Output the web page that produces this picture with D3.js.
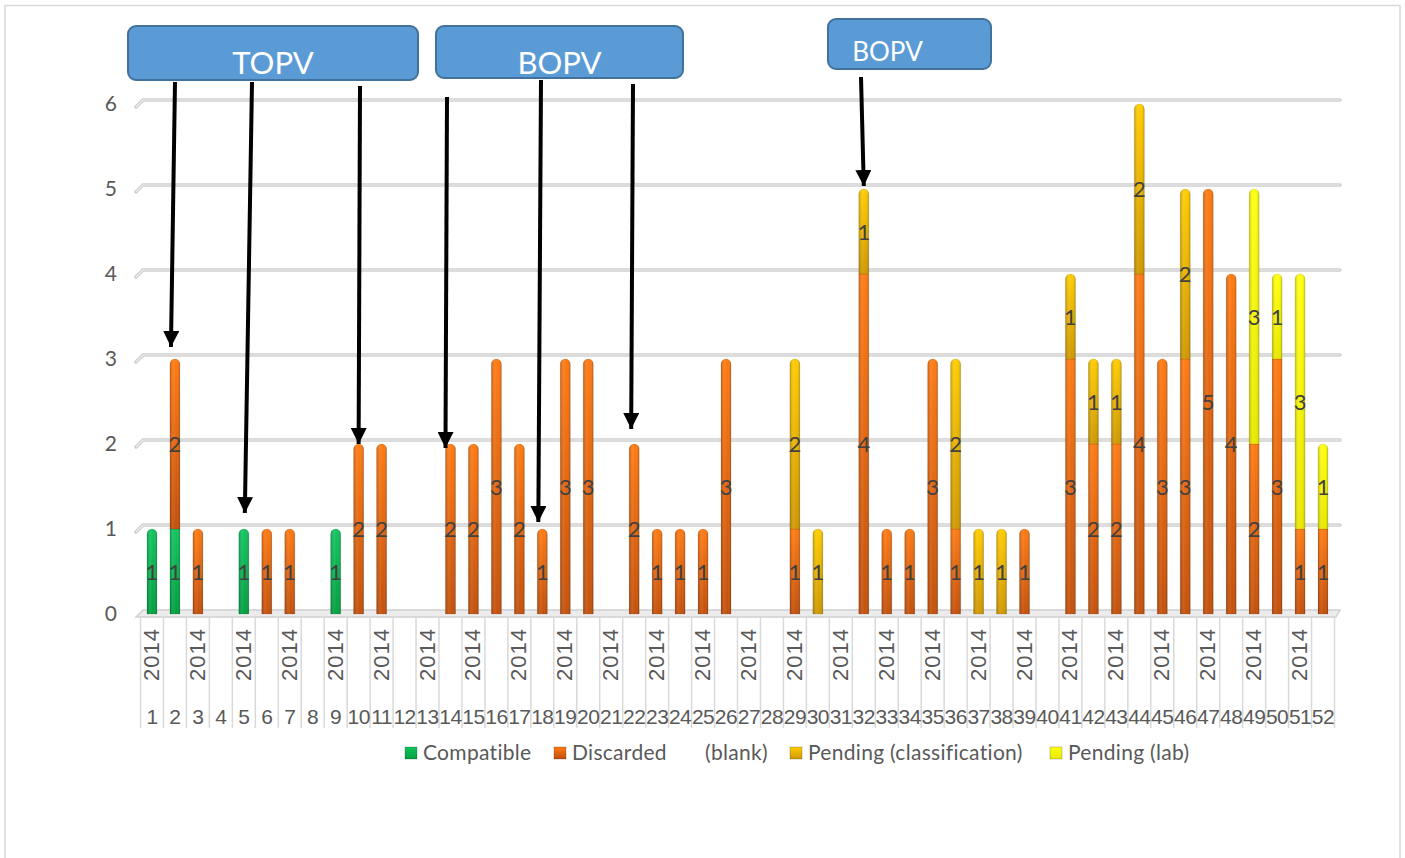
<!DOCTYPE html>
<html>
<head>
<meta charset="utf-8">
<script src="https://cdn.jsdelivr.net/npm/d3@7"></script>
<style>
  body { margin: 0; background: #fff; }
  svg { display: block; }
</style>
</head>
<body>
<div id="chart"></div>
<script>
// weeks 1..52 of 2014
const weeks = d3.range(1, 53);
const yearLabel = "2014";

// cases per week, one array per classification
const compatible = [1,1,0,0,1,0,0,0,1,0, 0,0,0,0,0,0,0,0,0,0, 0,0,0,0,0,0,0,0,0,0, 0,0,0,0,0,0,0,0,0,0, 0,0,0,0,0,0,0,0,0,0, 0,0];
const discarded  = [0,2,1,0,0,1,1,0,0,2, 2,0,0,2,2,3,2,1,3,3, 0,2,1,1,1,3,0,0,1,0, 0,4,1,1,3,1,0,0,1,0, 3,2,2,4,3,3,5,4,2,3, 1,1];
const blank      = new Array(52).fill(0);
const pendClass  = [0,0,0,0,0,0,0,0,0,0, 0,0,0,0,0,0,0,0,0,0, 0,0,0,0,0,0,0,0,2,1, 0,1,0,0,0,2,1,1,0,0, 1,1,1,2,0,2,0,0,0,0, 0,0];
const pendLab    = [0,0,0,0,0,0,0,0,0,0, 0,0,0,0,0,0,0,0,0,0, 0,0,0,0,0,0,0,0,0,0, 0,0,0,0,0,0,0,0,0,0, 0,0,0,0,0,0,0,0,3,1, 3,1];

const seriesNames = ["Compatible", "Discarded", "(blank)", "Pending (classification)", "Pending (lab)"];
const yTicks = [0, 1, 2, 3, 4, 5, 6];

// callout boxes and the arrows pointing at bars
const callouts = [
  {text: "TOPV", x: 128, y: 26, w: 290, h: 54, size: 31, ty: 74, dx: 0},
  {text: "BOPV", x: 436, y: 26, w: 247, h: 52, size: 31, ty: 74, dx: 0},
  {text: "BOPV", x: 828, y: 19, w: 163, h: 50, size: 26, ty: 61, dx: -22}
];
const arrows = [
  {week: 2,  value: 3, sx: 175, sy: 82, dx: -4, gap: 12},
  {week: 5,  value: 1, sx: 252, sy: 82, dx: 1,  gap: 16},
  {week: 10, value: 2, sx: 360, sy: 86, dx: 0,  gap: 0},
  {week: 14, value: 2, sx: 447, sy: 97, dx: -5, gap: -4},
  {week: 18, value: 1, sx: 541, sy: 80, dx: -4, gap: 7},
  {week: 22, value: 2, sx: 633, sy: 84, dx: -3, gap: 15},
  {week: 32, value: 5, sx: 861, sy: 77, dx: 0,  gap: 3}
];

const W = 1405, H = 858;
const svg = d3.select("#chart").append("svg")
  .attr("width", W)
  .attr("height", H)
  .style("font-family", "'Liberation Sans', Arial, sans-serif");

// chart frame
svg.append("path")
  .attr("d", `M5,${H + 2} V5.5 H1400 V${H + 2}`)
  .attr("fill", "none")
  .attr("stroke", "#d9d9d9")
  .attr("stroke-width", 1.5);

const x = d3.scaleBand()
  .domain(weeks)
  .range([140.5, 1334.5]);

const y = d3.scaleLinear()
  .domain([0, 6])
  .range([614, 104]);

const colors = {
  "Compatible": ["#10c45e", "#00a040"],
  "Discarded": ["#ff7a12", "#c4500a"],
  "(blank)": ["#ffffff", "#ffffff"],
  "Pending (classification)": ["#ffcc00", "#cf9800"],
  "Pending (lab)": ["#ffff10", "#e8e800"]
};

const defs = svg.append("defs");
seriesNames.forEach((name, i) => {
  const g = defs.append("linearGradient")
    .attr("id", "grad" + i)
    .attr("x1", 0).attr("y1", 0).attr("x2", 0).attr("y2", 1);
  g.append("stop").attr("offset", "0%").attr("stop-color", colors[name][0]);
  g.append("stop").attr("offset", "100%").attr("stop-color", colors[name][1]);
});
const cyl = defs.append("linearGradient")
  .attr("id", "cyl")
  .attr("x1", 0).attr("y1", 0).attr("x2", 1).attr("y2", 0);
cyl.append("stop").attr("offset", "0%").attr("stop-color", "#000").attr("stop-opacity", 0.22);
cyl.append("stop").attr("offset", "35%").attr("stop-color", "#fff").attr("stop-opacity", 0.08);
cyl.append("stop").attr("offset", "65%").attr("stop-color", "#fff").attr("stop-opacity", 0.0);
cyl.append("stop").attr("offset", "100%").attr("stop-color", "#000").attr("stop-opacity", 0.22);

defs.append("marker")
  .attr("id", "head")
  .attr("markerUnits", "userSpaceOnUse")
  .attr("viewBox", "0 0 16 16")
  .attr("refX", 16).attr("refY", 8)
  .attr("markerWidth", 16).attr("markerHeight", 16)
  .attr("orient", "auto")
  .append("path")
  .attr("d", "M0,0 L16,8 L0,16 Z")
  .attr("fill", "#000");

// back-wall gridlines with a small depth slant on the left
const grid = svg.append("g").attr("class", "grid");
yTicks.forEach(v => {
  const yy = y(v);
  if (v === 0) {
    grid.append("path")
      .attr("d", `M136,${yy + 3} L143,${yy - 4} L1340,${yy - 4} L1336,${yy + 3} Z`)
      .attr("fill", "#ececec")
      .attr("stroke", "#d0d0d0")
      .attr("stroke-width", 1.5);
    return;
  }
  grid.append("path")
    .attr("d", `M136,${yy + 3} L143,${yy - 4} L1340,${yy - 4}`)
    .attr("fill", "none")
    .attr("stroke", "#cfcfcf")
    .attr("stroke-width", 3.5)
    .attr("stroke-linecap", "round");
  grid.append("path")
    .attr("d", `M136,${yy + 3} L143,${yy - 4} L1340,${yy - 4}`)
    .attr("fill", "none")
    .attr("stroke", "#ececec")
    .attr("stroke-width", 1.2);
});

// y axis labels
svg.append("g")
  .selectAll("text")
  .data(yTicks)
  .join("text")
  .attr("x", 117)
  .attr("y", d => y(d) + 7)
  .attr("text-anchor", "end")
  .attr("font-family", "Lato, 'Open Sans', sans-serif")
  .attr("font-size", 21)
  .attr("fill", "#595959")
  .text(d => d);

// category axis: divider lines, year labels, week numbers
const xAxis = svg.append("g").attr("class", "x-axis");
xAxis.selectAll("line")
  .data(d3.range(53))
  .join("line")
  .attr("x1", i => 140.5 + i * x.step())
  .attr("x2", i => 140.5 + i * x.step())
  .attr("y1", 617)
  .attr("y2", 728)
  .attr("stroke", "#d9d9d9")
  .attr("stroke-width", 1.5);

xAxis.selectAll("text.year")
  .data(weeks.filter(w => w % 2 === 1))
  .join("text")
  .attr("class", "year")
  .attr("transform", d => `translate(${x(d) + x.bandwidth() / 2 + 7},655) rotate(-90)`)
  .attr("text-anchor", "middle")
  .attr("font-size", 22)
  .attr("textLength", 52)
  .attr("fill", "#595959")
  .text(yearLabel);

xAxis.selectAll("text.week")
  .data(weeks)
  .join("text")
  .attr("class", "week")
  .attr("x", d => x(d) + x.bandwidth() / 2)
  .attr("y", 724)
  .attr("text-anchor", "middle")
  .attr("font-size", 21)
  .attr("letter-spacing", -0.5)
  .attr("fill", "#595959")
  .text(d => d);

// stacked cylinders
const table = weeks.map((w, i) => ({
  week: w,
  "Compatible": compatible[i],
  "Discarded": discarded[i],
  "(blank)": blank[i],
  "Pending (classification)": pendClass[i],
  "Pending (lab)": pendLab[i]
}));
const stack = d3.stack().keys(seriesNames)(table);
const barW = 10;
const topOf = weeks.map((w, i) => {
  let k = -1;
  stack.forEach((s, si) => { if (s[i][1] > s[i][0]) k = si; });
  return k;
});

function segPath(x0, y0, y1, rounded) {
  const r = barW / 2;
  if (!rounded) return `M${x0},${y1} V${y0} H${x0 + barW} V${y1} Z`;
  return `M${x0},${y1} V${y0 + r} A${r},${r} 0 0 1 ${x0 + barW},${y0 + r} V${y1} Z`;
}

const bars = svg.append("g").attr("class", "bars");
stack.forEach((s, si) => {
  const segs = s.map((d, i) => ({d, i})).filter(o => o.d[1] > o.d[0]);
  const g = bars.append("g");
  segs.forEach(o => {
    const cx = x(o.d.data.week) + x.bandwidth() / 2;
    const p = segPath(cx - barW / 2, y(o.d[1]), y(o.d[0]), topOf[o.i] === si);
    g.append("path").attr("d", p).attr("fill", `url(#grad${si})`);
    g.append("path").attr("d", p).attr("fill", "url(#cyl)")
      .attr("stroke", "rgba(0,0,0,0.12)").attr("stroke-width", 0.8);
  });
});

// data labels in the middle of each segment
const labels = svg.append("g").attr("class", "labels");
stack.forEach(s => {
  labels.selectAll(null)
    .data(s.filter(d => d[1] > d[0]))
    .join("text")
    .attr("x", d => x(d.data.week) + x.bandwidth() / 2)
    .attr("y", d => y((d[0] + d[1]) / 2) + 8)
    .attr("text-anchor", "middle")
    .attr("font-family", "Lato, 'Open Sans', sans-serif")
    .attr("font-size", 22)
    .attr("fill", "#404040")
    .text(d => d[1] - d[0]);
});

// legend
const legendItems = [
  {name: "Compatible", x: 405, tx: 423},
  {name: "Discarded", x: 554, tx: 572},
  {name: "(blank)", x: null, tx: 705},
  {name: "Pending (classification)", x: 790, tx: 808},
  {name: "Pending (lab)", x: 1050, tx: 1068}
];
const legend = svg.append("g").attr("class", "legend");
legendItems.forEach(it => {
  const si = seriesNames.indexOf(it.name);
  if (it.x !== null) {
    legend.append("rect")
      .attr("x", it.x).attr("y", 747)
      .attr("width", 12).attr("height", 12)
      .attr("fill", `url(#grad${si})`)
      .attr("stroke", "rgba(0,0,0,0.25)")
      .attr("stroke-width", 0.8);
  }
  legend.append("text")
    .attr("x", it.tx)
    .attr("y", 760)
    .attr("font-family", "Lato, 'Open Sans', sans-serif")
    .attr("font-size", 21)
    .attr("letter-spacing", 0.3)
    .attr("fill", "#595959")
    .text(it.name);
});

// callouts
const notes = svg.append("g").attr("class", "callouts");
callouts.forEach(c => {
  notes.append("rect")
    .attr("x", c.x).attr("y", c.y)
    .attr("width", c.w).attr("height", c.h)
    .attr("rx", 8)
    .attr("fill", "#5b9bd5")
    .attr("stroke", "#41719c")
    .attr("stroke-width", 2);
  notes.append("text")
    .attr("x", c.x + c.w / 2 + c.dx)
    .attr("y", c.ty)
    .attr("text-anchor", "middle")
    .attr("font-family", "Lato, 'Open Sans', sans-serif")
    .attr("font-size", c.size)
    .attr("fill", "#fff")
    .text(c.text);
});

notes.selectAll("line.arrow")
  .data(arrows)
  .join("line")
  .attr("class", "arrow")
  .attr("x1", d => d.sx)
  .attr("y1", d => d.sy)
  .attr("x2", d => x(d.week) + x.bandwidth() / 2 + d.dx)
  .attr("y2", d => y(d.value) - d.gap)
  .attr("stroke", "#000")
  .attr("stroke-width", 4)
  .attr("marker-end", "url(#head)");
</script>
</body>
</html>
